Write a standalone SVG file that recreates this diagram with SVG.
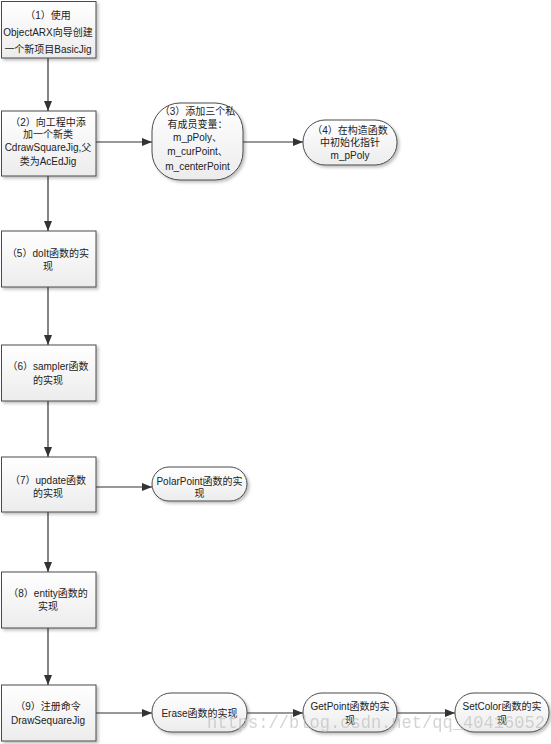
<svg xmlns="http://www.w3.org/2000/svg" width="551" height="744" viewBox="0 0 551 744">
<style>
.box{fill:url(#g);stroke:#4a4a4a;stroke-width:1;filter:url(#sh)}
.t{font-family:"Liberation Sans","Noto Sans CJK SC",sans-serif;font-size:10px;fill:#222;text-anchor:middle}
.c{fill:none;stroke:#333;stroke-width:1.2;marker-end:url(#a)}
.wm{font-family:"Liberation Mono",monospace;font-size:19px;fill:#b8b8b8;opacity:0.6}
</style>
<defs>
<linearGradient id="g" x1="0" y1="0" x2="0" y2="1">
<stop offset="0" stop-color="#ffffff"/>
<stop offset="1" stop-color="#ececec"/>
</linearGradient>
<filter id="sh" x="-10%" y="-10%" width="130%" height="130%">
<feDropShadow dx="2" dy="2" stdDeviation="1.5" flood-color="#000" flood-opacity="0.25"/>
</filter>
<marker id="a" markerUnits="userSpaceOnUse" markerWidth="10" markerHeight="8" refX="10" refY="4" orient="auto">
<path d="M0,0 L10,4 L0,8 z" fill="#333"/>
</marker>
</defs>
<rect width="551" height="744" fill="#fff"/>
<g id="connectors">
<path class="c" d="M48,58 V111"/>
<path class="c" d="M48,176 V231"/>
<path class="c" d="M48,287 V345"/>
<path class="c" d="M48,401 V457"/>
<path class="c" d="M48,512 V572"/>
<path class="c" d="M48,628 V685"/>
<path class="c" d="M96,142 H152"/>
<path class="c" d="M243,142 H303"/>
<path class="c" d="M96,487 H152"/>
<path class="c" d="M96,713 H152"/>
<path class="c" d="M247,713 H303"/>
<path class="c" d="M397,713 H455"/>
</g>
<g id="n1">
<rect class="box" x="1.5" y="1.5" width="94.5" height="56.5"/>
<text class="t" x="48" y="18.5">（1）使用</text>
<text class="t" x="48" y="35.5">ObjectARX向导创建</text>
<text class="t" x="48" y="52.5">一个新项目BasicJig</text>
</g>
<g id="n2">
<rect class="box" x="1.5" y="111" width="94.5" height="65"/>
<text class="t" x="48" y="126">（2）向工程中添</text>
<text class="t" x="48" y="138">加一个新类</text>
<text class="t" x="48" y="151">CdrawSquareJig,父</text>
<text class="t" x="48" y="164.5">类为AcEdJig</text>
</g>
<g id="n3">
<rect class="box" x="152" y="103" width="91" height="77" rx="28" ry="28"/>
<text class="t" x="197.5" y="115">（3）添加三个私</text>
<text class="t" x="197.5" y="128">有成员变量：</text>
<text class="t" x="197.5" y="141">m_pPoly、</text>
<text class="t" x="197.5" y="155">m_curPoint、</text>
<text class="t" x="197.5" y="169.5">m_centerPoint</text>
</g>
<g id="n4">
<rect class="box" x="303" y="120" width="94" height="45" rx="22" ry="22"/>
<text class="t" x="350" y="133.5">（4）在构造函数</text>
<text class="t" x="350" y="146">中初始化指针</text>
<text class="t" x="350" y="158.5">m_pPoly</text>
</g>
<g id="n5">
<rect class="box" x="1.5" y="231" width="94.5" height="56"/>
<text class="t" x="48" y="257">（5）doIt函数的实</text>
<text class="t" x="48" y="270">现</text>
</g>
<g id="n6">
<rect class="box" x="1.5" y="345" width="94.5" height="56"/>
<text class="t" x="48" y="370">（6）sampler函数</text>
<text class="t" x="48" y="383.5">的实现</text>
</g>
<g id="n7">
<rect class="box" x="1.5" y="457" width="94.5" height="55"/>
<text class="t" x="48" y="483.5">（7）update函数</text>
<text class="t" x="48" y="497">的实现</text>
</g>
<g id="n7b">
<rect class="box" x="152" y="467" width="95" height="34" rx="17" ry="17"/>
<text class="t" x="199.5" y="485">PolarPoint函数的实</text>
<text class="t" x="199.5" y="497">现</text>
</g>
<g id="n8">
<rect class="box" x="1.5" y="572" width="94.5" height="56"/>
<text class="t" x="48" y="597">（8）entity函数的</text>
<text class="t" x="48" y="610">实现</text>
</g>
<g id="n9">
<rect class="box" x="1.5" y="685" width="94.5" height="56"/>
<text class="t" x="48" y="710">（9）注册命令</text>
<text class="t" x="48" y="723.5">DrawSequareJig</text>
</g>
<g id="n10">
<rect class="box" x="152" y="693" width="95" height="39" rx="19" ry="19"/>
<text class="t" x="199.5" y="716.5">Erase函数的实现</text>
</g>
<g id="n11">
<rect class="box" x="303" y="693" width="94" height="39" rx="19" ry="19"/>
<text class="t" x="350" y="709.5">GetPoint函数的实</text>
<text class="t" x="350" y="723.5">现</text>
</g>
<g id="n12">
<rect class="box" x="455" y="693" width="94" height="39" rx="19" ry="19"/>
<text class="t" x="502" y="709.5">SetColor函数的实</text>
<text class="t" x="502" y="723.5">现</text>
</g>
<text class="wm" x="207" y="728" textLength="338" lengthAdjust="spacingAndGlyphs">https://blog.csdn.net/qq_40416052</text>
</svg>
